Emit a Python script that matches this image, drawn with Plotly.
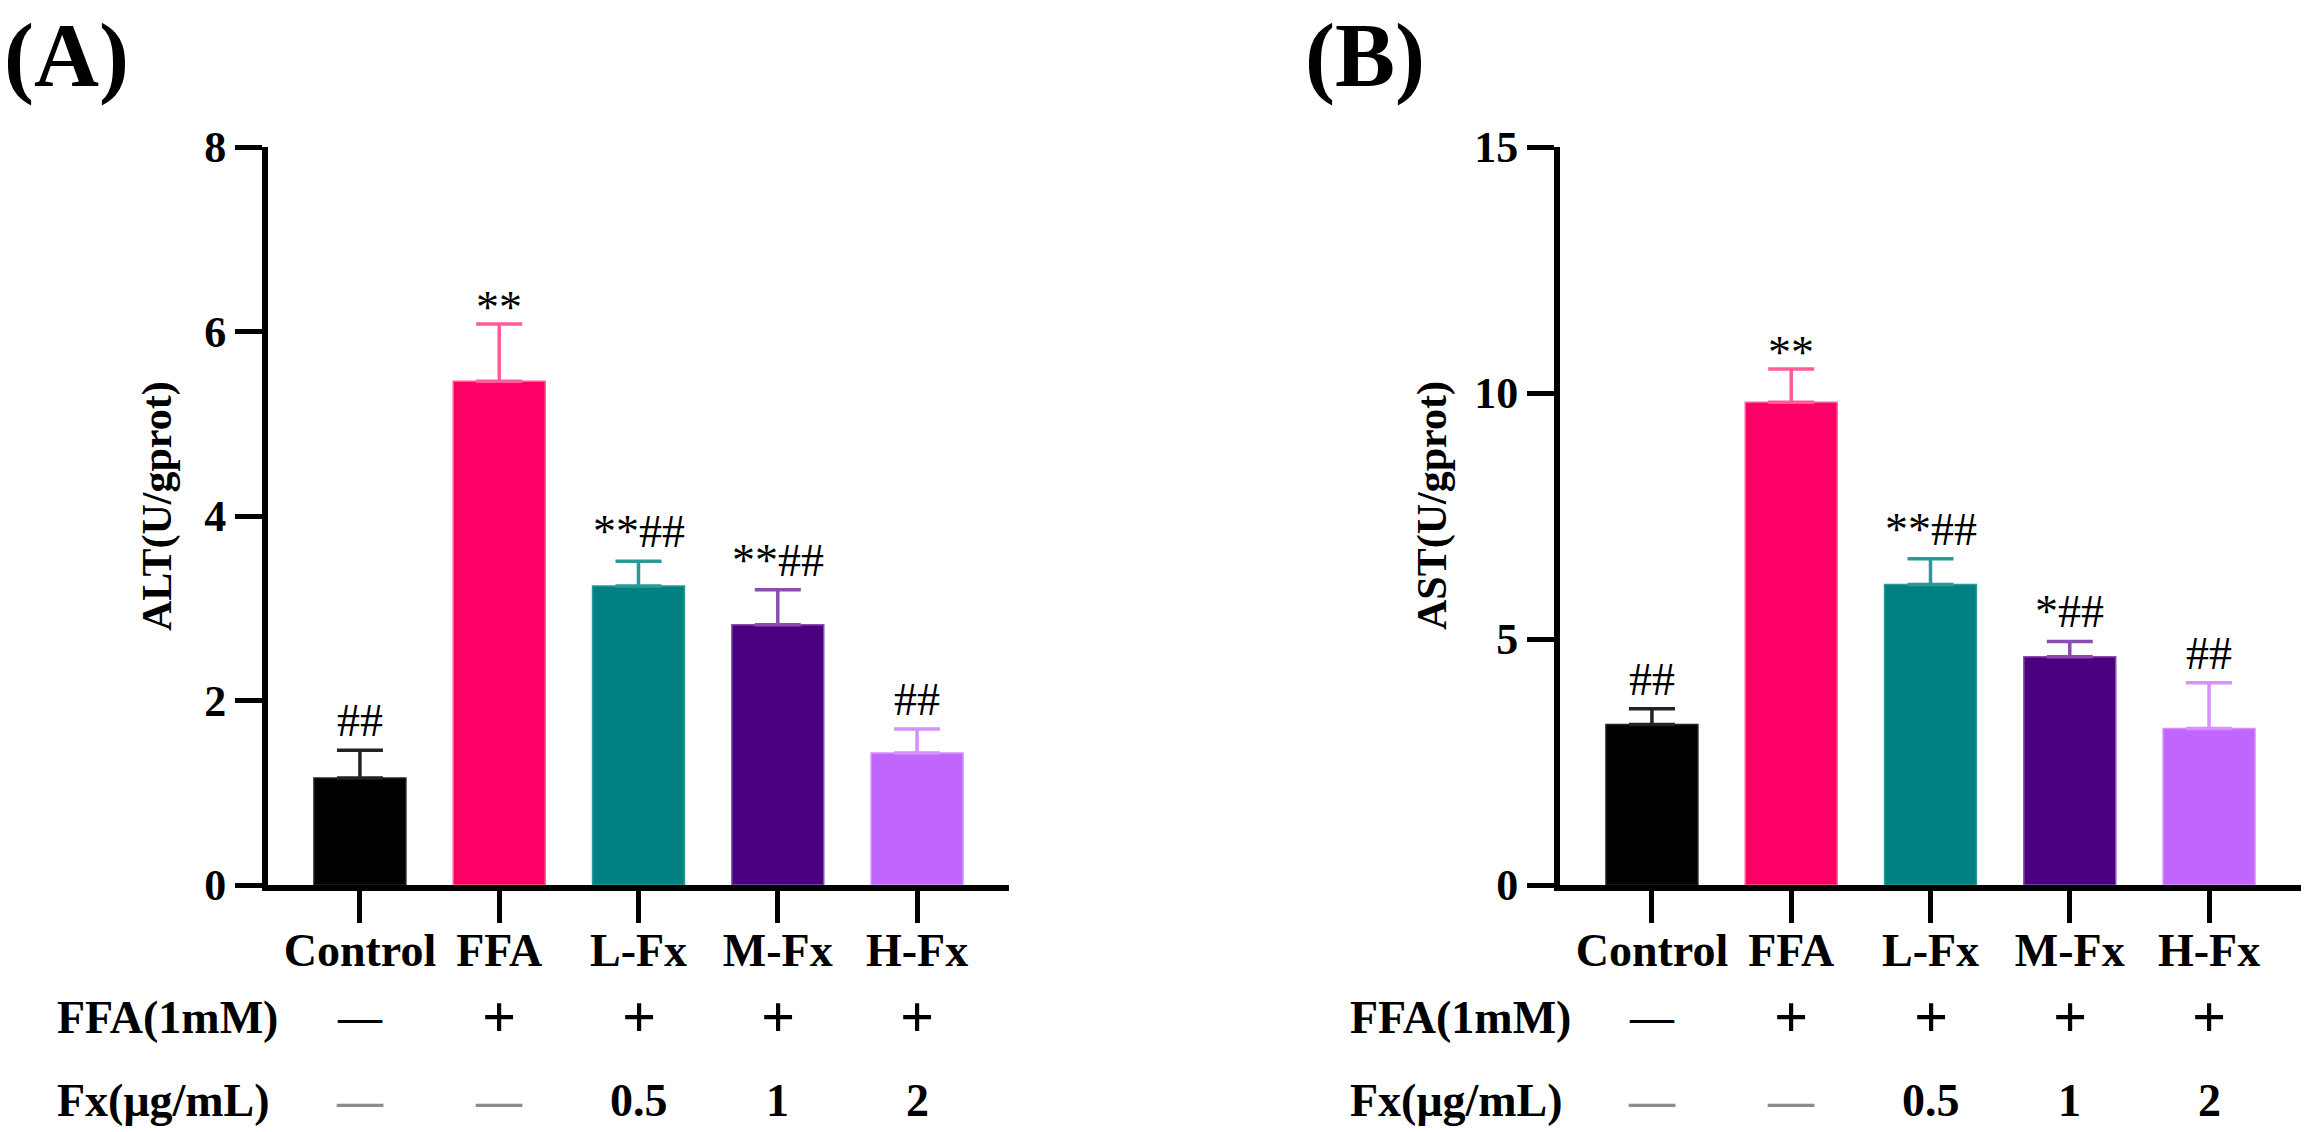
import plotly.graph_objects as go

groups = ['Control', 'FFA', 'L-Fx', 'M-Fx', 'H-Fx']

alt_mean = [1.16, 5.46, 3.24, 2.82, 1.43]
alt_sem = [0.30, 0.62, 0.27, 0.38, 0.26]
alt_sig = ['##', '**', '**##', '**##', '##']

ast_mean = [3.26, 9.81, 6.11, 4.64, 3.18]
ast_sem = [0.32, 0.68, 0.52, 0.31, 0.93]
ast_sig = ['##', '**', '**##', '*##', '##']

ffa_row = ['—', '+', '+', '+', '+']
fx_row = ['—', '—', '0.5', '1', '2']

bar_colors = ['#000000', '#FF0066', '#008080', '#4B0082', '#C066FF']
err_colors = ['#222222', '#FF5C99', '#2A9A98', '#8A4CB0', '#D690FF']

FONT = 'Liberation Serif'
W, H = 2306, 1132


def px(x):
    return x / W


def py(y):
    return 1 - y / H


fig = go.Figure()

panels = [
    dict(xa='x', ya='y', mean=alt_mean, sem=alt_sem, sig=alt_sig),
    dict(xa='x2', ya='y2', mean=ast_mean, sem=ast_sem, sig=ast_sig),
]

annotations = []
for p in panels:
    for i, g in enumerate(groups):
        fig.add_trace(go.Bar(
            x=[g], y=[p['mean'][i]],
            xaxis=p['xa'], yaxis=p['ya'],
            width=0.66,
            marker=dict(color=bar_colors[i], line=dict(width=1.5, color=err_colors[i])),
            error_y=dict(type='data', array=[p['sem'][i]], arrayminus=[0],
                         symmetric=False, color=err_colors[i],
                         thickness=3.5, width=23),
            showlegend=False,
        ))
        # significance marks above error bars (asterisk-only marks sit lower)
        sig = p['sig'][i]
        annotations.append(dict(
            x=g, y=p['mean'][i] + p['sem'][i], xref=p['xa'], yref=p['ya'],
            text=sig, showarrow=False, xanchor='center', yanchor='bottom',
            yshift=2 if '#' in sig else -11,
            font=dict(family=FONT, size=46, color='black'),
        ))
        # treatment rows under the axis
        annotations.append(dict(
            x=g, y=py(1017), xref=p['xa'], yref='paper',
            text=ffa_row[i], showarrow=False, xanchor='center', yanchor='middle',
            font=dict(family=FONT, size=60 if ffa_row[i] == '+' else 44,
                      color='black', weight='bold'),
        ))
        annotations.append(dict(
            x=g, y=py(1100), xref=p['xa'], yref='paper',
            text=fx_row[i], showarrow=False, xanchor='center', yanchor='middle',
            font=dict(family=FONT, size=46,
                      color='#8C8C8C' if fx_row[i] == '—' else 'black',
                      weight='bold'),
        ))

# row labels, y titles, panel letters
for x0, ytitle, xt in [(55, 'ALT(U/gprot)', 157), (1348, 'AST(U/gprot)', 1432)]:
    annotations.append(dict(x=px(x0), y=py(1017), xref='paper', yref='paper',
                            text='FFA(1mM)', showarrow=False, xanchor='left', yanchor='middle',
                            font=dict(family=FONT, size=46, color='black', weight='bold')))
    annotations.append(dict(x=px(x0), y=py(1100), xref='paper', yref='paper',
                            text='Fx(μg/mL)', showarrow=False, xanchor='left', yanchor='middle',
                            font=dict(family=FONT, size=46, color='black', weight='bold')))
    annotations.append(dict(x=px(xt), y=py(506), xref='paper', yref='paper',
                            text=ytitle, showarrow=False, textangle=-90,
                            xanchor='center', yanchor='middle',
                            font=dict(family=FONT, size=42, color='black', weight='bold')))

for x0, letter in [(2, '(A)'), (1303, '(B)')]:
    annotations.append(dict(x=px(x0), y=py(56), xref='paper', yref='paper',
                            text=letter, showarrow=False, xanchor='left', yanchor='middle',
                            font=dict(family=FONT, size=90, color='black', weight='bold')))

xaxis_style = dict(
    range=[-0.66, 4.66], showline=True, linewidth=6, linecolor='black',
    ticks='outside', ticklen=32, tickwidth=5, tickcolor='black',
    tickfont=dict(family=FONT, size=46, color='black', weight='bold'),
    ticklabelstandoff=-12,
    showgrid=False, zeroline=False, fixedrange=True, automargin=False,
)
yaxis_style = dict(
    showline=True, linewidth=6, linecolor='black',
    ticks='outside', ticklen=27, tickwidth=5, tickcolor='black',
    tickfont=dict(family=FONT, size=44, color='black', weight='bold'),
    showgrid=False, zeroline=False, fixedrange=True, automargin=False,
)

ydom = [py(885), py(147)]

fig.update_layout(
    width=W, height=H,
    margin=dict(l=0, r=0, t=0, b=0),
    plot_bgcolor='white', paper_bgcolor='white',
    barmode='overlay',
    xaxis=dict(domain=[px(268), px(1009)], anchor='y', **xaxis_style),
    yaxis=dict(domain=ydom, anchor='x', range=[0, 8], dtick=2, **yaxis_style),
    xaxis2=dict(domain=[px(1560), px(2301)], anchor='y2', **xaxis_style),
    yaxis2=dict(domain=ydom, anchor='x2', range=[0, 15], dtick=5, **yaxis_style),
    annotations=annotations,
)

# drop the default page margin so the figure fills the window exactly
fig.write_html("out.html", config={'displayModeBar': False},
               post_script="document.body.style.margin = '0';")
